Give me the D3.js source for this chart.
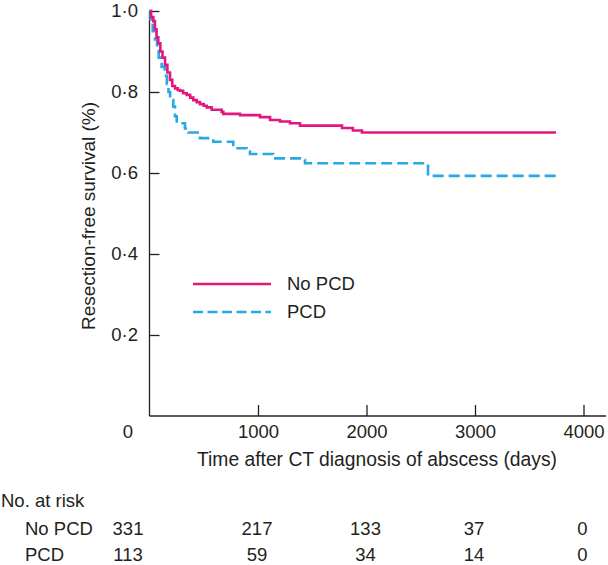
<!DOCTYPE html>
<html><head><meta charset="utf-8">
<script src="https://cdn.jsdelivr.net/npm/d3@7"></script>
<style>body{margin:0;background:#fff}svg{display:block}text{font-family:"Liberation Sans",Arial,sans-serif;fill:#231f20;font-size:18.5px}</style>
</head><body><svg id="c" width="608" height="565"></svg>
<script>
// Kaplan-Meier step data (days, survival)
const noPcdTimes = [0,15,35,50,65,81,100,120,143,165,189,210,235,260,281,310,343,375,404,435,465,500,527,573,665,680,834,1018,1111,1203,1295,1387,1774,1875,1958,3747];
const noPcdSurv  = [1.0,0.985,0.975,0.955,0.935,0.92,0.90,0.885,0.867,0.848,0.830,0.815,0.809,0.805,0.803,0.797,0.793,0.786,0.780,0.775,0.770,0.766,0.762,0.756,0.751,0.746,0.743,0.738,0.731,0.727,0.723,0.717,0.711,0.705,0.700,0.700];
const pcdTimes = [0,10,30,51,70,85,112,140,160,175,190,219,235,251,327,358,465,588,772,788,896,926,1141,1418,1433,2567,3780];
const pcdSurv  = [1.0,0.97,0.95,0.93,0.905,0.885,0.862,0.84,0.82,0.80,0.78,0.764,0.74,0.723,0.71,0.70,0.686,0.677,0.669,0.661,0.653,0.647,0.636,0.632,0.624,0.593,0.593];
const seriesNames = ["No PCD","PCD"];
const xTicks = [1000,2000,3000,4000];
const yTicks = [0.2,0.4,0.6,0.8,1.0];
const riskNoPcd = [331,217,133,37,0];
const riskPcd = [113,59,34,14,0];

const svg = d3.select("#c");
const x = d3.scaleLinear().domain([0,4000]).range([149.5,583.5]);
const y = d3.scaleLinear().domain([0,1]).range([416,11]);
const axisColor = "#231f20";
const fmt = d => d3.format(".1f")(d).replace(".","\u00b7");

const g = svg.append("g");
const xAxis = d3.axisBottom(x).tickValues(xTicks).tickSize(-11).tickSizeOuter(0).tickFormat(d3.format("d"));
const xg = g.append("g").attr("transform","translate(0,416)").call(xAxis);
xg.select(".domain").remove();
g.append("line").attr("x1",x(0)).attr("x2",606).attr("y1",416).attr("y2",416).attr("stroke",axisColor).attr("stroke-width",1.3);
xg.selectAll(".tick line").attr("stroke",axisColor).attr("stroke-width",1.3);
xg.selectAll(".tick text").attr("y",22).attr("dy",null).style("font-size","18.5px").attr("fill",axisColor);
// "0" label at the origin corner
const zeroX = 128;
g.append("text").attr("x",zeroX).attr("y",438).attr("text-anchor","middle").text("0");

const yAxis = d3.axisLeft(y).tickValues(yTicks).tickSize(-10).tickSizeOuter(0).tickFormat(fmt);
const yg = g.append("g").attr("transform",`translate(${x(0)},0)`).call(yAxis);
yg.select(".domain").remove();
g.append("line").attr("x1",x(0)).attr("x2",x(0)).attr("y1",y(1)).attr("y2",416).attr("stroke",axisColor).attr("stroke-width",1.3);
yg.selectAll(".tick line").attr("stroke",axisColor).attr("stroke-width",1.3);
yg.selectAll(".tick text").attr("x",-11.5).style("font-size","18.5px").attr("fill",axisColor);

// axis titles
svg.append("text").attr("transform","translate(94.5,216) rotate(-90)").attr("text-anchor","middle").style("font-size","19px").text("Resection-free survival (%)");
svg.append("text").attr("x",377).attr("y",466).attr("text-anchor","middle").style("font-size","19.3px").text("Time after CT diagnosis of abscess (days)");

// curves
const line = d3.line().x(d=>x(d[0])).y(d=>y(d[1])).curve(d3.curveStepAfter);
const colors = ["#e1177f","#27a9e1"];
const dashes = [null,"11,5"];
const data = [d3.zip(noPcdTimes,noPcdSurv), d3.zip(pcdTimes,pcdSurv)];
[1,0].forEach(i=>{
  svg.append("path").datum(data[i]).attr("d",line).attr("fill","none")
    .attr("stroke",colors[i]).attr("stroke-width",2.6).attr("stroke-dasharray",dashes[i]);
});

// legend
const ly = [284,312];
seriesNames.forEach((n,i)=>{
  svg.append("line").attr("x1",193).attr("x2",271).attr("y1",ly[i]).attr("y2",ly[i])
    .attr("stroke",colors[i]).attr("stroke-width",2.6).attr("stroke-dasharray",i ? "10,4.5" : null);
  svg.append("text").attr("x",287).attr("y",ly[i]).attr("dy","0.35em").text(n);
});

// number at risk
svg.append("text").attr("x",1).attr("y",507).text("No. at risk");
const riskX = [zeroX].concat(xTicks.map(t=>x(t)-1));
[[riskNoPcd,535],[riskPcd,561]].forEach(([vals,yy],i)=>{
  svg.append("text").attr("x",25).attr("y",yy).text(seriesNames[i]);
  vals.forEach((v,j)=>{
    svg.append("text").attr("x",riskX[j]).attr("y",yy).attr("text-anchor","middle").text(v);
  });
});
</script></body></html>
